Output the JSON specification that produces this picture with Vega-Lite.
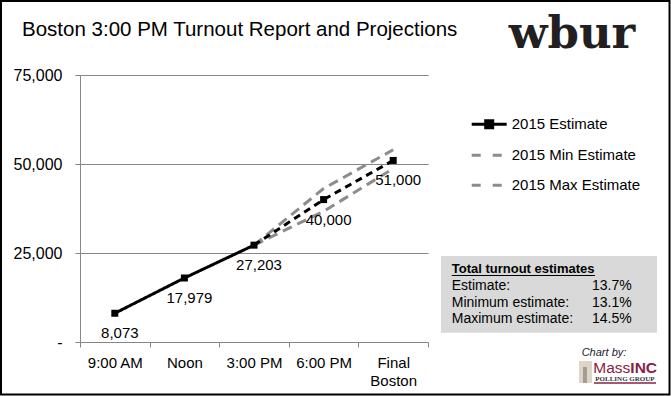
{
  "$schema": "https://vega.github.io/schema/vega-lite/v6.json",
  "width": 348,
  "height": 267,
  "autosize": {"type": "none"},
  "padding": {"left": 80, "top": 75, "right": 243, "bottom": 54},
  "background": "white",
  "config": {
    "view": {"stroke": null},
    "font": "Liberation Sans",
    "text": {"font": "Liberation Sans", "color": "#000000"},
    "legend": {
      "orient": "none",
      "legendX": 398.7,
      "legendY": 38.8,
      "title": null,
      "padding": 0,
      "symbolSize": 306,
      "symbolStrokeWidth": 3,
      "labelFont": "Liberation Sans",
      "labelFontSize": 15,
      "labelColor": "#000000",
      "labelOffset": 12,
      "rowPadding": 11
    }
  },
  "datasets": {
    "lines": [
      {"cat": "9:00 AM", "series": "2015 Estimate", "seg": "actual", "value": 8073},
      {"cat": "Noon", "series": "2015 Estimate", "seg": "actual", "value": 17979},
      {"cat": "3:00 PM", "series": "2015 Estimate", "seg": "actual", "value": 27203},
      {"cat": "3:00 PM", "series": "2015 Estimate", "seg": "proj", "value": 27203},
      {"cat": "6:00 PM", "series": "2015 Estimate", "seg": "proj", "value": 40000},
      {"cat": "Final Boston", "series": "2015 Estimate", "seg": "proj", "value": 51000},
      {"cat": "3:00 PM", "series": "2015 Min Estimate", "seg": "proj", "value": 27203},
      {"cat": "6:00 PM", "series": "2015 Min Estimate", "seg": "proj", "value": 36700},
      {"cat": "Final Boston", "series": "2015 Min Estimate", "seg": "proj", "value": 48700},
      {"cat": "3:00 PM", "series": "2015 Max Estimate", "seg": "proj", "value": 27203},
      {"cat": "6:00 PM", "series": "2015 Max Estimate", "seg": "proj", "value": 43100},
      {"cat": "Final Boston", "series": "2015 Max Estimate", "seg": "proj", "value": 54000}
    ],
    "pts": [
      {"cat": "9:00 AM", "value": 8073},
      {"cat": "Noon", "value": 17979},
      {"cat": "3:00 PM", "value": 27203},
      {"cat": "6:00 PM", "value": 40000},
      {"cat": "Final Boston", "value": 51000}
    ]
  },
  "layer": [
    {
      "layer": [
        {
          "data": {"name": "lines"},
          "transform": [{"filter": "datum.series != '2015 Estimate'"}],
          "mark": {"type": "line", "strokeWidth": 3, "strokeDash": [10, 6]},
          "encoding": {
            "x": {"field": "cat", "type": "ordinal", "sort": ["9:00 AM", "Noon", "3:00 PM", "6:00 PM", "Final Boston"],
              "scale": {"type": "band", "paddingInner": 0, "paddingOuter": 0, "domain": ["9:00 AM", "Noon", "3:00 PM", "6:00 PM", "Final Boston"]},
              "axis": {"title": null, "domainColor": "#878787", "domainWidth": 1, "tickColor": "#878787", "tickSize": 5, "tickBand": "extent",
                "labelAngle": 0, "labelFont": "Liberation Sans", "labelFontSize": 15, "labelColor": "#000000", "labelPadding": 8, "labelLineHeight": 18,
                "labelExpr": "datum.label == 'Final Boston' ? ['Final', 'Boston'] : datum.label"}},
            "y": {"field": "value", "type": "quantitative", "scale": {"domain": [0, 75000], "nice": false},
              "axis": {"title": null, "values": [0, 25000, 50000, 75000], "grid": true, "gridColor": "#878787", "gridWidth": 1,
                "domainColor": "#878787", "tickColor": "#878787", "tickSize": 5, "labelPadding": 13,
                "labelFont": "Liberation Sans", "labelFontSize": 16, "labelColor": "#000000",
                "labelExpr": "datum.value == 0 ? '-\u00a0\u00a0' : format(datum.value, ',')"}},
            "color": {"field": "series", "type": "nominal",
              "scale": {"domain": ["2015 Estimate", "2015 Min Estimate", "2015 Max Estimate"], "range": ["#000000", "#8c8c8c", "#8c8c8c"]},
              "legend": {
                "encode": {"symbols": {"update": {
                  "shape": {"signal": "datum.value == '2015 Estimate' ? 'M-2,0H2M-0.4,-0.4H0.4V0.4H-0.4Z' : 'M-2,0H2'"},
                  "strokeDash": {"signal": "datum.value == '2015 Estimate' ? [1,0] : [9,12]"},
                  "fill": {"signal": "datum.value == '2015 Estimate' ? '#000000' : 'transparent'"},
                  "strokeWidth": {"value": 3},
                  "opacity": {"value": 1}
                }}}
              }},
            "detail": {"field": "series"}
          }
        },
        {
          "data": {"name": "lines"},
          "transform": [{"filter": "datum.series == '2015 Estimate'"}],
          "mark": {"type": "line", "strokeWidth": 3},
          "encoding": {
            "x": {"field": "cat", "type": "ordinal", "sort": ["9:00 AM", "Noon", "3:00 PM", "6:00 PM", "Final Boston"]},
            "y": {"field": "value", "type": "quantitative"},
            "color": {"field": "series", "type": "nominal"},
            "strokeDash": {"field": "seg", "type": "nominal", "scale": {"domain": ["actual", "proj"], "range": [[1, 0], [7, 5]]}, "legend": null}
          }
        },
        {
          "data": {"name": "pts"},
          "mark": {"type": "point", "shape": "square", "filled": true, "size": 49, "color": "#000000", "opacity": 1},
          "encoding": {
            "x": {"field": "cat", "type": "ordinal", "sort": ["9:00 AM", "Noon", "3:00 PM", "6:00 PM", "Final Boston"]},
            "y": {"field": "value", "type": "quantitative"}
          }
        },
        {
          "data": {"name": "pts"},
          "mark": {"type": "text", "fontSize": 15, "baseline": "alphabetic", "align": "center", "dx": 5, "dy": 25, "color": "#000000"},
          "encoding": {
            "x": {"field": "cat", "type": "ordinal", "sort": ["9:00 AM", "Noon", "3:00 PM", "6:00 PM", "Final Boston"]},
            "y": {"field": "value", "type": "quantitative"},
            "text": {"field": "value", "type": "quantitative", "format": ","}
          }
        }
      ]
    },
    {
      "data": {"values": [{}]},
      "layer": [
        {
          "mark": {"type": "rect", "fill": "#d9d9d9"},
          "encoding": {
            "x": {"datum": 4.687, "type": "quantitative", "scale": {"domain": [-0.5, 4.5], "nice": false, "zero": false}, "axis": null},
            "x2": {"datum": 7.79},
            "y": {"datum": 24157, "type": "quantitative", "scale": {"domain": [0, 75000], "nice": false, "zero": false}, "axis": null},
            "y2": {"datum": 2612}
          }
        },
        {
          "mark": {"type": "rect", "fill": "none", "stroke": "#000000", "strokeWidth": 2},
          "encoding": {
            "x": {"datum": -1.635, "type": "quantitative", "scale": {"domain": [-0.5, 4.5], "nice": false, "zero": false}, "axis": null},
            "x2": {"datum": 7.97},
            "y": {"datum": 95787, "type": "quantitative", "scale": {"domain": [0, 75000], "nice": false, "zero": false}, "axis": null},
            "y2": {"datum": -14747}
          }
        },
        {
          "mark": {"type": "text", "text": "Boston 3:00 PM Turnout Report and Projections", "align": "left", "baseline": "alphabetic", "fontSize": 20.5, "color": "#000000"},
          "encoding": {
            "x": {"datum": -1.333, "type": "quantitative", "scale": {"domain": [-0.5, 4.5], "nice": false, "zero": false}, "axis": null},
            "y": {"datum": 85955, "type": "quantitative", "scale": {"domain": [0, 75000], "nice": false, "zero": false}, "axis": null}
          }
        },
        {
          "mark": {"type": "text", "text": "wbur", "align": "center", "baseline": "alphabetic", "fontSize": 45, "font": "DejaVu Serif", "fontWeight": "bold", "color": "#231f20"},
          "encoding": {
            "x": {"datum": 6.569, "type": "quantitative", "scale": {"domain": [-0.5, 4.5], "nice": false, "zero": false}, "axis": null},
            "y": {"datum": 82669, "type": "quantitative", "scale": {"domain": [0, 75000], "nice": false, "zero": false}, "axis": null}
          }
        },
        {
          "mark": {"type": "text", "text": "Total turnout estimates", "align": "left", "baseline": "alphabetic", "fontSize": 13, "fontWeight": "bold", "color": "#000000"},
          "encoding": {
            "x": {"datum": 4.841, "type": "quantitative", "scale": {"domain": [-0.5, 4.5], "nice": false, "zero": false}, "axis": null},
            "y": {"datum": 19298, "type": "quantitative", "scale": {"domain": [0, 75000], "nice": false, "zero": false}, "axis": null}
          }
        },
        {
          "mark": {"type": "rule", "color": "#000000", "strokeWidth": 1},
          "encoding": {
            "x": {"datum": 4.841, "type": "quantitative", "scale": {"domain": [-0.5, 4.5], "nice": false, "zero": false}, "axis": null},
            "x2": {"datum": 6.9},
            "y": {"datum": 18680, "type": "quantitative", "scale": {"domain": [0, 75000], "nice": false, "zero": false}, "axis": null}
          }
        },
        {
          "mark": {"type": "text", "text": "Estimate:", "align": "left", "baseline": "alphabetic", "fontSize": 14, "color": "#000000"},
          "encoding": {
            "x": {"datum": 4.841, "type": "quantitative", "scale": {"domain": [-0.5, 4.5], "nice": false, "zero": false}, "axis": null},
            "y": {"datum": 14607, "type": "quantitative", "scale": {"domain": [0, 75000], "nice": false, "zero": false}, "axis": null}
          }
        },
        {
          "mark": {"type": "text", "text": "Minimum estimate:", "align": "left", "baseline": "alphabetic", "fontSize": 14, "color": "#000000"},
          "encoding": {
            "x": {"datum": 4.841, "type": "quantitative", "scale": {"domain": [-0.5, 4.5], "nice": false, "zero": false}, "axis": null},
            "y": {"datum": 9747, "type": "quantitative", "scale": {"domain": [0, 75000], "nice": false, "zero": false}, "axis": null}
          }
        },
        {
          "mark": {"type": "text", "text": "Maximum estimate:", "align": "left", "baseline": "alphabetic", "fontSize": 14, "color": "#000000"},
          "encoding": {
            "x": {"datum": 4.841, "type": "quantitative", "scale": {"domain": [-0.5, 4.5], "nice": false, "zero": false}, "axis": null},
            "y": {"datum": 5253, "type": "quantitative", "scale": {"domain": [0, 75000], "nice": false, "zero": false}, "axis": null}
          }
        },
        {
          "mark": {"type": "text", "text": "13.7%", "align": "right", "baseline": "alphabetic", "fontSize": 14, "color": "#000000"},
          "encoding": {
            "x": {"datum": 7.427, "type": "quantitative", "scale": {"domain": [-0.5, 4.5], "nice": false, "zero": false}, "axis": null},
            "y": {"datum": 14607, "type": "quantitative", "scale": {"domain": [0, 75000], "nice": false, "zero": false}, "axis": null}
          }
        },
        {
          "mark": {"type": "text", "text": "13.1%", "align": "right", "baseline": "alphabetic", "fontSize": 14, "color": "#000000"},
          "encoding": {
            "x": {"datum": 7.427, "type": "quantitative", "scale": {"domain": [-0.5, 4.5], "nice": false, "zero": false}, "axis": null},
            "y": {"datum": 9747, "type": "quantitative", "scale": {"domain": [0, 75000], "nice": false, "zero": false}, "axis": null}
          }
        },
        {
          "mark": {"type": "text", "text": "14.5%", "align": "right", "baseline": "alphabetic", "fontSize": 14, "color": "#000000"},
          "encoding": {
            "x": {"datum": 7.427, "type": "quantitative", "scale": {"domain": [-0.5, 4.5], "nice": false, "zero": false}, "axis": null},
            "y": {"datum": 5253, "type": "quantitative", "scale": {"domain": [0, 75000], "nice": false, "zero": false}, "axis": null}
          }
        },
        {
          "mark": {"type": "text", "text": "Chart by:", "align": "left", "baseline": "alphabetic", "fontSize": 11, "fontStyle": "italic", "color": "#1a1a2e"},
          "encoding": {
            "x": {"datum": 6.708, "type": "quantitative", "scale": {"domain": [-0.5, 4.5], "nice": false, "zero": false}, "axis": null},
            "y": {"datum": -3933, "type": "quantitative", "scale": {"domain": [0, 75000], "nice": false, "zero": false}, "axis": null}
          }
        },
        {
          "mark": {"type": "rect", "fill": "#ddd5c8"},
          "encoding": {
            "x": {"datum": 6.67, "type": "quantitative", "scale": {"domain": [-0.5, 4.5], "nice": false, "zero": false}, "axis": null},
            "x2": {"datum": 6.856},
            "y": {"datum": -5337, "type": "quantitative", "scale": {"domain": [0, 75000], "nice": false, "zero": false}, "axis": null},
            "y2": {"datum": -11517}
          }
        },
        {
          "mark": {"type": "rect", "fill": "#a69c8d"},
          "encoding": {
            "x": {"datum": 6.727, "type": "quantitative", "scale": {"domain": [-0.5, 4.5], "nice": false, "zero": false}, "axis": null},
            "x2": {"datum": 6.784},
            "y": {"datum": -7022, "type": "quantitative", "scale": {"domain": [0, 75000], "nice": false, "zero": false}, "axis": null},
            "y2": {"datum": -11517}
          }
        },
        {
          "mark": {"type": "text", "text": "Mass", "align": "left", "baseline": "alphabetic", "fontSize": 15.5, "color": "#8a2046"},
          "encoding": {
            "x": {"datum": 6.875, "type": "quantitative", "scale": {"domain": [-0.5, 4.5], "nice": false, "zero": false}, "axis": null},
            "y": {"datum": -8624, "type": "quantitative", "scale": {"domain": [0, 75000], "nice": false, "zero": false}, "axis": null}
          }
        },
        {
          "mark": {"type": "text", "text": "INC", "align": "left", "baseline": "alphabetic", "fontSize": 15.5, "fontWeight": "bold", "color": "#8a2046"},
          "encoding": {
            "x": {"datum": 7.407, "type": "quantitative", "scale": {"domain": [-0.5, 4.5], "nice": false, "zero": false}, "axis": null},
            "y": {"datum": -8624, "type": "quantitative", "scale": {"domain": [0, 75000], "nice": false, "zero": false}, "axis": null}
          }
        },
        {
          "mark": {"type": "text", "text": "POLLING GROUP", "align": "center", "baseline": "alphabetic", "fontSize": 7, "font": "Liberation Serif", "fontWeight": "bold", "color": "#333333"},
          "encoding": {
            "x": {"datum": 7.33, "type": "quantitative", "scale": {"domain": [-0.5, 4.5], "nice": false, "zero": false}, "axis": null},
            "y": {"datum": -10955, "type": "quantitative", "scale": {"domain": [0, 75000], "nice": false, "zero": false}, "axis": null}
          }
        },
        {
          "mark": {"type": "rule", "color": "#8a2046", "strokeWidth": 1.5},
          "encoding": {
            "x": {"datum": 6.885, "type": "quantitative", "scale": {"domain": [-0.5, 4.5], "nice": false, "zero": false}, "axis": null},
            "x2": {"datum": 7.776},
            "y": {"datum": -11517, "type": "quantitative", "scale": {"domain": [0, 75000], "nice": false, "zero": false}, "axis": null}
          }
        }
      ]
    }
  ],
  "resolve": {"scale": {"x": "independent", "y": "independent"}, "axis": {"x": "independent", "y": "independent"}}
}
